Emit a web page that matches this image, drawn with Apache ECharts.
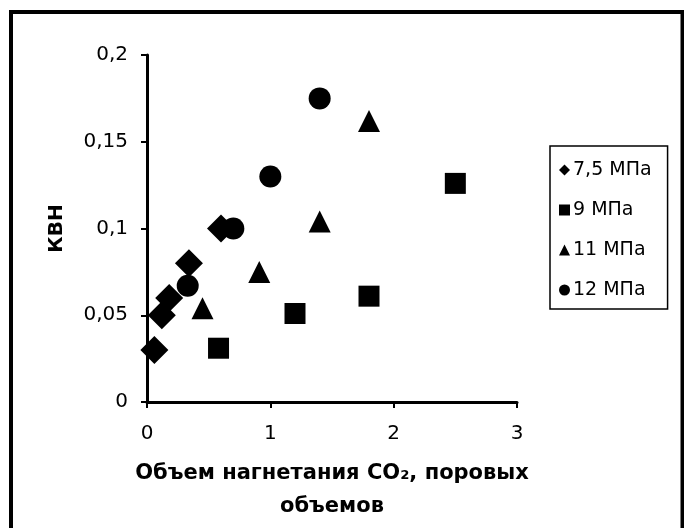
<!DOCTYPE html>
<html>
<head>
<meta charset="utf-8">
<script src="https://cdn.jsdelivr.net/npm/echarts@6/dist/echarts.min.js"></script>
<style>
html,body{margin:0;padding:0;background:#fff;}
#chart{width:684px;height:528px;}
</style>
</head>
<body>
<div id="chart"></div>
<script>
const seriesNames = ['7,5 МПа', '9 МПа', '11 МПа', '12 МПа'];
const seriesSymbols = ['diamond', 'rect', 'triangle', 'circle'];
const seriesSizes = [28, 21, 22, 22];
const p75 = [[0.06, 0.030], [0.12, 0.050], [0.18, 0.060], [0.34, 0.080], [0.60, 0.100]];
const p9 = [[0.58, 0.031], [1.20, 0.051], [1.80, 0.061], [2.50, 0.126]];
const p11 = [[0.45, 0.054], [0.91, 0.075], [1.40, 0.104], [1.80, 0.162]];
const p12 = [[0.33, 0.067], [0.70, 0.100], [1.00, 0.130], [1.40, 0.175]];
const seriesData = [p75, p9, p11, p12];
const xTitle = 'Объем нагнетания CO₂, поровых\nобъемов';
const yTitle = 'КВН';

const FONT = '"DejaVu Sans", sans-serif';
const chart = echarts.init(document.getElementById('chart'), null, {renderer: 'canvas'});
chart.setOption({
  animation: false,
  backgroundColor: '#ffffff',
  graphic: [{
    type: 'rect',
    shape: {x: 11, y: 12, width: 671.5, height: 600},
    style: {fill: 'none', stroke: '#000', lineWidth: 4},
    silent: true, z: 100
  }],
  grid: {left: 147, right: 167, top: 55, bottom: 124, containLabel: false},
  legend: {
    orient: 'vertical',
    left: 550, top: 146,
    padding: [14, 16, 9, 9],
    itemGap: 20,
    itemWidth: 11, itemHeight: 11,
    borderColor: '#000', borderWidth: 1.5,
    backgroundColor: '#fff',
    textStyle: {fontFamily: FONT, fontSize: 19, color: '#000', lineHeight: 20, padding: [0, 0, 0, -2]},
    data: seriesNames.map((n, i) => ({name: n, icon: seriesSymbols[i]}))
  },
  xAxis: {
    type: 'value', min: 0, max: 3, interval: 1,
    name: xTitle, nameLocation: 'middle', nameGap: 55,
    nameTextStyle: {fontFamily: FONT, fontWeight: 'bold', fontSize: 21, color: '#000', lineHeight: 33},
    axisLine: {show: true, onZero: false, lineStyle: {color: '#000', width: 3}},
    axisTick: {show: true, length: 6, lineStyle: {color: '#000', width: 2}},
    axisLabel: {fontFamily: FONT, fontSize: 20, color: '#000', margin: 22},
    splitLine: {show: false}
  },
  yAxis: {
    type: 'value', min: 0, max: 0.2, interval: 0.05,
    name: yTitle, nameLocation: 'middle', nameGap: 80,
    nameTextStyle: {fontFamily: FONT, fontWeight: 'bold', fontSize: 20, color: '#000'},
    axisLine: {show: true, onZero: false, lineStyle: {color: '#000', width: 3}},
    axisTick: {show: true, length: 6, lineStyle: {color: '#000', width: 2}},
    axisLabel: {fontFamily: FONT, fontSize: 20, color: '#000', margin: 19,
      formatter: v => String(parseFloat(v.toFixed(3))).replace('.', ',')},
    splitLine: {show: false}
  },
  series: seriesNames.map((n, i) => ({
    name: n,
    type: 'scatter',
    symbol: seriesSymbols[i],
    symbolSize: seriesSizes[i],
    itemStyle: {color: '#000', opacity: 1},
    data: seriesData[i]
  }))
});
</script>
</body>
</html>
